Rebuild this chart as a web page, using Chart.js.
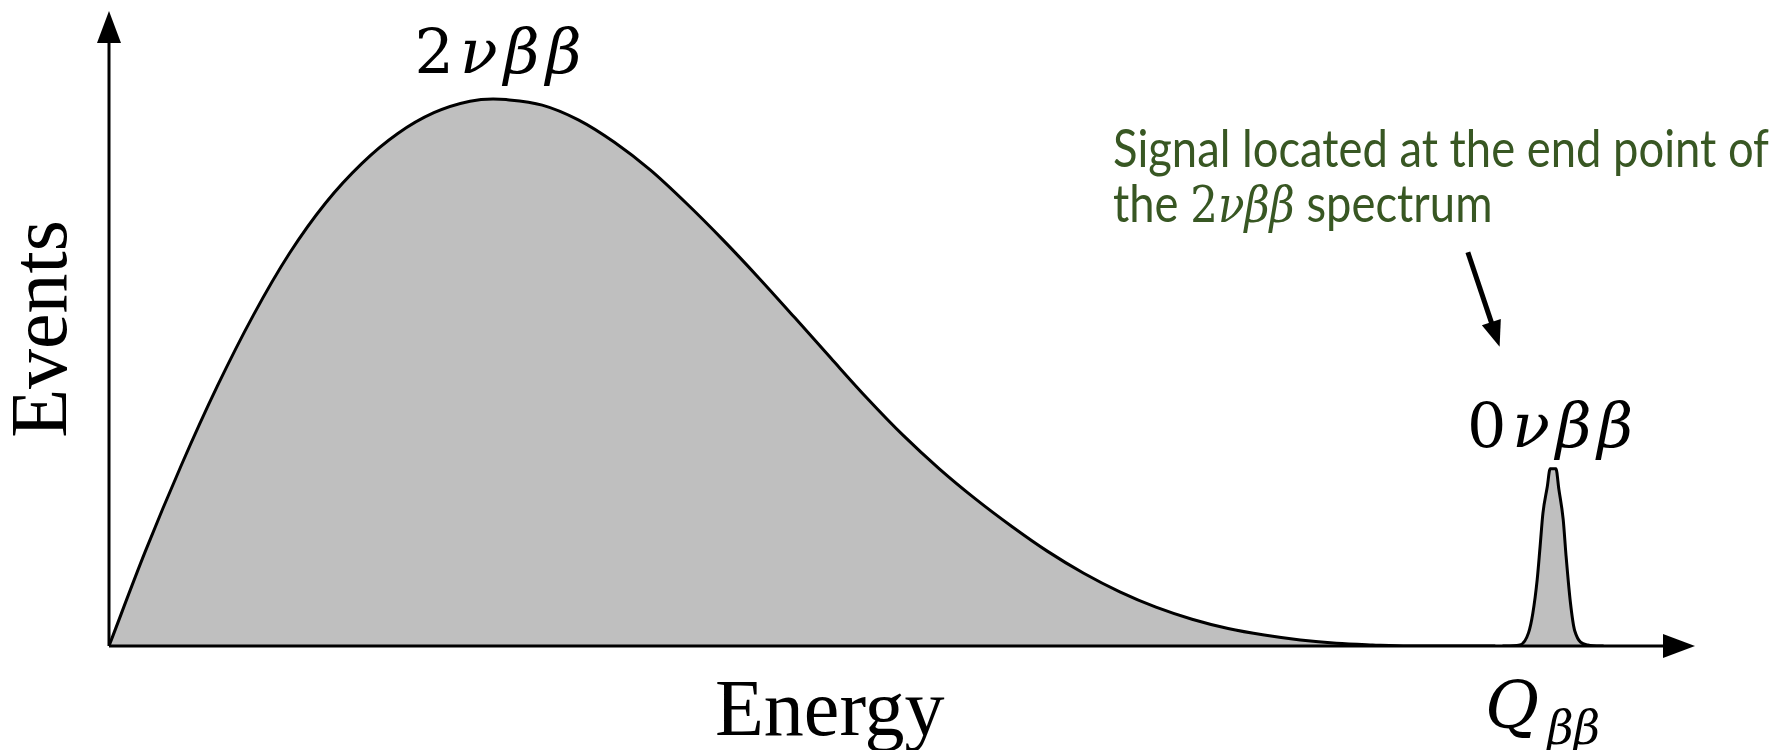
<!DOCTYPE html>
<html>
<head>
<meta charset="utf-8">
<script src="https://cdn.jsdelivr.net/npm/chart.js@4.4.0/dist/chart.umd.min.js"></script>
<style>
  body { margin: 0; background: #fff; }
  #wrap { width: 1779px; height: 750px; position: relative; }
</style>
</head>
<body>
<div id="wrap"><canvas id="spectrum"></canvas></div>
<script>
// energy in units of Q_bb, events normalised to the 2nu peak
var energy2nu = [0, 0.025, 0.05, 0.075, 0.1, 0.125, 0.15, 0.175, 0.2, 0.225, 0.25, 0.266, 0.275, 0.3, 0.325, 0.35, 0.375, 0.4, 0.425, 0.45, 0.475, 0.5, 0.525, 0.55, 0.575, 0.6, 0.625, 0.65, 0.675, 0.7, 0.725, 0.75, 0.775, 0.8, 0.825, 0.85, 0.875, 0.9, 0.96];
var events2nu = [0, 0.172, 0.330, 0.475, 0.605, 0.718, 0.810, 0.882, 0.937, 0.975, 0.996, 1.000, 0.999, 0.989, 0.962, 0.921, 0.870, 0.809, 0.743, 0.673, 0.600, 0.526, 0.453, 0.385, 0.324, 0.269, 0.219, 0.173, 0.133, 0.099, 0.071, 0.049, 0.032, 0.020, 0.011, 0.005, 0.002, 0, 0];

var energy0nu = [0.965, 0.977, 0.983, 0.986, 0.989, 0.991, 0.993, 0.996, 0.998, 1.002, 1.004, 1.007, 1.009, 1.012, 1.015, 1.024, 1.035];
var events0nu = [0, 0.002, 0.024, 0.060, 0.121, 0.181, 0.243, 0.291, 0.324, 0.324, 0.287, 0.232, 0.165, 0.080, 0.028, 0.002, 0];

var axisTitles = ['Energy', 'Events'];
var noteLines = ['Signal located at the end point of', 'the ', '2', 'νββ', ' spectrum'];

function toPoints(xs, ys) {
  var pts = [];
  for (var i = 0; i < xs.length; i++) pts.push({x: xs[i], y: ys[i]});
  return pts;
}

function arrowHead(ctx, tx, ty, dx, dy, len, half) {
  var n = Math.sqrt(dx * dx + dy * dy); dx /= n; dy /= n;
  var bx = tx - dx * len, by = ty - dy * len;
  ctx.beginPath();
  ctx.moveTo(tx, ty);
  ctx.lineTo(bx - dy * half, by + dx * half);
  ctx.lineTo(bx + dy * half, by - dx * half);
  ctx.closePath();
  ctx.fill();
}

// draws pieces of text (each with its own font) spread to a given width
function drawParts(ctx, parts, x, y, width, align) {
  var widths = [], natural = 0;
  parts.forEach(function(p) { ctx.font = p[1]; var w = ctx.measureText(p[0]).width; widths.push(w); natural += w; });
  var gap = (width != null && parts.length > 1) ? (width - natural) / (parts.length - 1) : 0;
  var total = natural + gap * (parts.length - 1);
  var cx = align === 'center' ? x - total / 2 : x;
  parts.forEach(function(p, i) { ctx.font = p[1]; ctx.fillText(p[0], cx, y); cx += widths[i] + gap; });
}

var axesPlugin = {
  id: 'arrowAxes',
  afterDatasetsDraw: function(chart) {
    var ctx = chart.ctx, xs = chart.scales.x, ys = chart.scales.y;
    var x0 = xs.getPixelForValue(0), y0 = ys.getPixelForValue(0);
    var xEnd = xs.getPixelForValue(xs.max), yEnd = ys.getPixelForValue(ys.max);
    ctx.save();
    ctx.strokeStyle = '#000'; ctx.fillStyle = '#000'; ctx.lineWidth = 3;
    ctx.beginPath();
    ctx.moveTo(x0, y0); ctx.lineTo(xEnd - 25, y0);
    ctx.moveTo(x0, y0); ctx.lineTo(x0, yEnd + 25);
    ctx.stroke();
    arrowHead(ctx, xEnd, y0, 1, 0, 32, 12);
    arrowHead(ctx, x0, yEnd, 0, -1, 32, 12);
    ctx.restore();
  },
  afterDraw: function(chart) {
    var ctx = chart.ctx, xs = chart.scales.x, ys = chart.scales.y;
    var serif = '"Liberation Serif", "DejaVu Serif", serif';
    var math = '"DejaVu Serif", serif';
    ctx.save();
    ctx.fillStyle = '#000';
    ctx.textBaseline = 'alphabetic';

    // axis titles
    ctx.font = '80px ' + serif;
    ctx.fillText(axisTitles[0], 715, 735);
    ctx.save();
    ctx.translate(66, 329);
    ctx.rotate(-Math.PI / 2);
    ctx.textAlign = 'center';
    ctx.fillText(axisTitles[1], 0, 0);
    ctx.restore();

    // peak labels
    var up = '62px ' + math, it = 'italic 62px ' + math;
    drawParts(ctx, [['2', up], ['ν', it], ['β', it], ['β', it]], xs.getPixelForValue(0.266) + 5, 73, 167, 'center');
    drawParts(ctx, [['0', up], ['ν', it], ['β', it], ['β', it]], xs.getPixelForValue(1.0) - 3, 447, 166, 'center');

    // Q_bb under the axis
    ctx.font = 'italic 66px ' + math;
    ctx.fillText('Q', 1485, 728);
    ctx.font = 'italic 46px ' + math;
    ctx.fillText('ββ', 1547, 744);

    // green note, Calibri-like: a touch condensed
    var green = '#385723';
    ctx.fillStyle = green;
    var sans = '52px Lato';
    ctx.font = sans;
    var sx = 656 / ctx.measureText(noteLines[0]).width;
    ctx.save();
    ctx.translate(1113, 167);
    ctx.scale(sx, 1);
    ctx.fillText(noteLines[0], 0, 0);
    ctx.restore();
    ctx.save();
    ctx.translate(1113, 222);
    ctx.scale(sx, 1);
    drawParts(ctx, [[noteLines[1], sans], [noteLines[2], '50px ' + math], [noteLines[3], 'italic 50px ' + math], [noteLines[4], sans]], 0, 0, null, 'left');
    ctx.restore();

    // pointer arrow
    var ax = xs.getPixelForValue(0.941), ay = ys.getPixelForValue(0.720);
    var bx = xs.getPixelForValue(0.963), by = ys.getPixelForValue(0.547);
    ctx.fillStyle = '#000'; ctx.strokeStyle = '#000'; ctx.lineWidth = 5;
    ctx.beginPath();
    ctx.moveTo(ax, ay);
    var dx = bx - ax, dy = by - ay, n = Math.sqrt(dx * dx + dy * dy);
    ctx.lineTo(bx - dx / n * 20, by - dy / n * 20);
    ctx.stroke();
    arrowHead(ctx, bx, by, dx, dy, 26, 10);
    ctx.restore();
  }
};

var lineStyle = {
  borderColor: '#000',
  borderWidth: 3,
  backgroundColor: '#bfbfbf',
  fill: 'origin',
  pointRadius: 0,
  cubicInterpolationMode: 'monotone'
};

new Chart(document.getElementById('spectrum'), {
  type: 'line',
  data: {
    datasets: [
      Object.assign({ label: '2nu', data: toPoints(energy2nu, events2nu) }, lineStyle),
      Object.assign({ label: '0nu', data: toPoints(energy0nu, events0nu) }, lineStyle)
    ]
  },
  options: {
    responsive: true,
    maintainAspectRatio: false,
    animation: false,
    layout: { padding: { left: 109, right: 84, top: 11, bottom: 104 } },
    plugins: { legend: { display: false }, tooltip: { enabled: false } },
    scales: {
      x: { type: 'linear', min: 0, max: 1.0983, display: false },
      y: { min: 0, max: 1.161, display: false }
    }
  },
  plugins: [axesPlugin]
});
</script>
</body>
</html>
